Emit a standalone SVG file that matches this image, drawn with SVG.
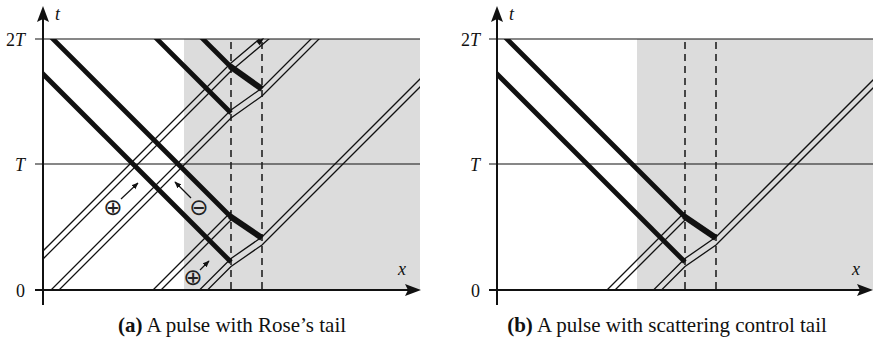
<svg xmlns="http://www.w3.org/2000/svg" xmlns:xlink="http://www.w3.org/1999/xlink" width="873" height="344" viewBox="0 0 873 344">
<style>
.bg{fill:#dcdcdc;stroke:none}
.grid{stroke:#111;stroke-width:1.2;fill:none}
.axis{stroke:#111;stroke-width:2;fill:none}
.dash{stroke:#222;stroke-width:1.6;stroke-dasharray:7 5;fill:none}
.thick{stroke:#111;stroke-width:4.8;fill:none;stroke-linecap:butt}
.thick2{stroke:#111;stroke-width:6;fill:none;stroke-linecap:butt}
.tube{stroke:#111;stroke-width:1.3;fill:none;stroke-linejoin:miter}
.lab{font-family:"Liberation Serif","Times New Roman",serif;font-size:18px;fill:#111}
.it{font-style:italic}
.cap{font-family:"Liberation Serif","Times New Roman",serif;font-size:21px;fill:#111;text-anchor:middle}
.sym{font-family:"DejaVu Sans",sans-serif;font-size:23px;fill:#222;text-anchor:middle}
.arr{stroke:#111;stroke-width:1.2;fill:none}
</style>
<defs>
<clipPath id="ca"><rect x="43" y="39" width="377" height="251"/></clipPath>
<clipPath id="cb"><rect x="497" y="39" width="376" height="251"/></clipPath>
<marker id="ah" viewBox="0 0 10 10" refX="9" refY="5" markerWidth="7" markerHeight="7" markerUnits="userSpaceOnUse" orient="auto"><path d="M0,1 L10,5 L0,9 Z" fill="#111"/></marker>
<path id="pa4" d="M23,275 L231,67 L276,29"/>
<path id="pa3" d="M45,300 L231,114 L262,92 L340,14"/>
<path id="pa1" d="M147,300 L231,216"/>
<path id="pa2" d="M193.5,300 L231,262.5 L262,241 L440,63"/>
<path id="pb1" d="M601,300 L685,216"/>
<path id="pb2" d="M647.5,300 L685,262.5 L716,241 L900,57"/>
</defs>

<g id="panel-a">
<rect class="bg" x="184" y="39" width="236" height="251"/>
<line class="grid" x1="35" y1="39" x2="420" y2="39"/>
<line class="grid" x1="35" y1="164" x2="420" y2="164"/>
<line class="dash" x1="231" y1="42" x2="231" y2="290"/>
<line class="dash" x1="262" y1="42" x2="262" y2="290"/>
<g id="tubes-a" clip-path="url(#ca)">
<use xlink:href="#pa4" class="tube" transform="translate(0,-4)"/>
<use xlink:href="#pa4" class="tube" transform="translate(0,4)"/>
<use xlink:href="#pa3" class="tube" transform="translate(0,-4)"/>
<use xlink:href="#pa3" class="tube" transform="translate(0,4)"/>
<use xlink:href="#pa1" class="tube" transform="translate(0,-4)"/>
<use xlink:href="#pa1" class="tube" transform="translate(0,4)"/>
<use xlink:href="#pa2" class="tube" transform="translate(0,-4)"/>
<use xlink:href="#pa2" class="tube" transform="translate(0,4)"/>
</g>
<g id="pulses-a" clip-path="url(#ca)">
<line class="thick" x1="38" y1="69" x2="231" y2="262"/>
<line class="thick" x1="49" y1="35" x2="231" y2="217"/>
<line class="thick2" x1="230" y1="216.3" x2="262" y2="238"/>
<line class="thick" x1="153" y1="35" x2="231" y2="113"/>
<line class="thick" x1="199" y1="35" x2="231" y2="67"/>
<line class="thick2" x1="230" y1="66.3" x2="262" y2="89"/>
</g>
<polygon points="264,38 256,41 259.8,45.5" fill="#111"/>
<g id="signs-a">
<text class="sym" x="113" y="215">⊕</text>
<line class="arr" x1="121" y1="199" x2="138" y2="183" marker-end="url(#ah)"/>
<text class="sym" x="199" y="215">⊖</text>
<line class="arr" x1="191" y1="198" x2="175" y2="182" marker-end="url(#ah)"/>
<text class="sym" x="193" y="285">⊕</text>
<line class="arr" x1="200" y1="270" x2="209" y2="261" marker-end="url(#ah)"/>
</g>
<line class="axis" x1="35" y1="290" x2="410" y2="290"/>
<line class="axis" x1="43" y1="305" x2="43" y2="18"/>
<path d="M43,6 L49,22 L43,19 L37,22 Z" fill="#111"/>
<path d="M421,290 L405,296 L408,290 L405,284 Z" fill="#111"/>
<text class="lab it" x="55" y="20">t</text>
<text class="lab it" x="398" y="275">x</text>
<text class="lab" x="25" y="46" text-anchor="end">2<tspan class="it">T</tspan></text>
<text class="lab it" x="25" y="171" text-anchor="end">T</text>
<text class="lab" x="25" y="297" text-anchor="end">0</text>
<text class="cap" x="232" y="332"><tspan font-weight="bold">(a)</tspan> A pulse with Rose’s tail</text>
</g>

<g id="panel-b">
<rect class="bg" x="637" y="39" width="236" height="251"/>
<line class="grid" x1="489" y1="39" x2="873" y2="39"/>
<line class="grid" x1="489" y1="164" x2="873" y2="164"/>
<line class="dash" x1="685" y1="42" x2="685" y2="290"/>
<line class="dash" x1="716" y1="42" x2="716" y2="290"/>
<g id="tubes-b" clip-path="url(#cb)">
<use xlink:href="#pb1" class="tube" transform="translate(0,-4)"/>
<use xlink:href="#pb1" class="tube" transform="translate(0,4)"/>
<use xlink:href="#pb2" class="tube" transform="translate(0,-4)"/>
<use xlink:href="#pb2" class="tube" transform="translate(0,4)"/>
</g>
<g id="pulses-b" clip-path="url(#cb)">
<line class="thick" x1="492" y1="69" x2="685" y2="262"/>
<line class="thick" x1="503" y1="35" x2="685" y2="217"/>
<line class="thick2" x1="684" y1="216.3" x2="716" y2="238"/>
</g>
<line class="axis" x1="489" y1="290" x2="862" y2="290"/>
<line class="axis" x1="497" y1="305" x2="497" y2="18"/>
<path d="M497,6 L503,22 L497,19 L491,22 Z" fill="#111"/>
<path d="M873,290 L857,296 L860,290 L857,284 Z" fill="#111"/>
<text class="lab it" x="509" y="20">t</text>
<text class="lab it" x="852" y="275">x</text>
<text class="lab" x="480" y="46" text-anchor="end">2<tspan class="it">T</tspan></text>
<text class="lab it" x="480" y="171" text-anchor="end">T</text>
<text class="lab" x="480" y="297" text-anchor="end">0</text>
<text class="cap" x="667" y="332"><tspan font-weight="bold">(b)</tspan> A pulse with scattering control tail</text>
</g>
</svg>
